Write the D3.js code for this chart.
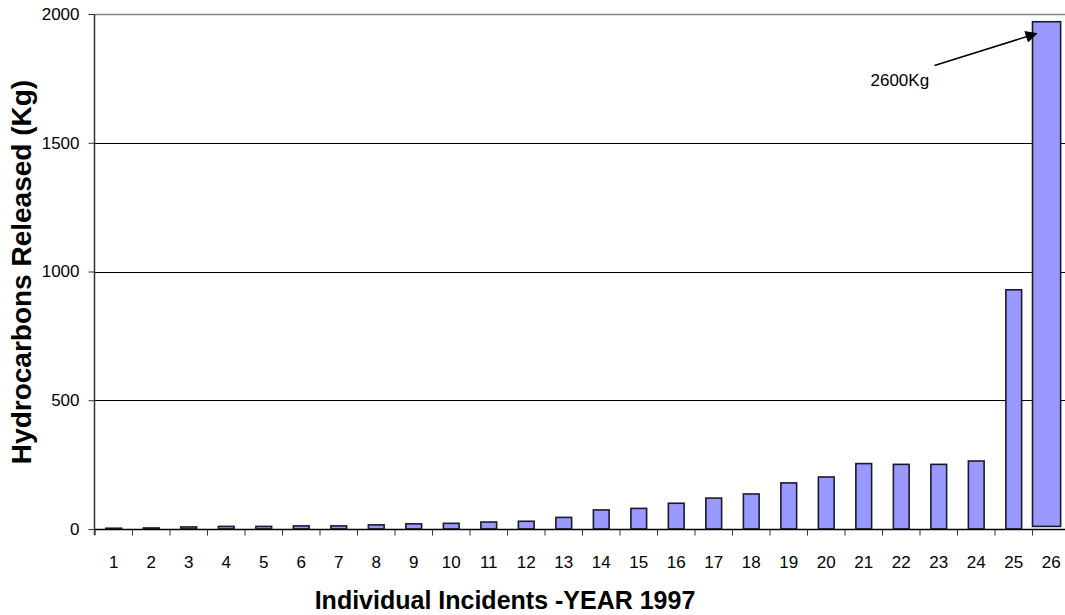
<!DOCTYPE html>
<html>
<head>
<meta charset="utf-8">
<script src="https://cdn.jsdelivr.net/npm/d3@7"></script>
<style>
  html, body { margin: 0; padding: 0; background: #fff; overflow: hidden; }
  svg { display: block; font-family: "Liberation Sans", Arial, sans-serif; }
</style>
</head>
<body>
<svg id="chart" width="1065" height="615"></svg>
<script>
// Hydrocarbon releases per incident, 1997 (kg)
const categories = ["1","2","3","4","5","6","7","8","9","10","11","12","13",
                    "14","15","16","17","18","19","20","21","22","23","24","25","26"];
const released = [3, 4, 8, 10, 10, 12, 12, 16, 20, 22, 27, 30, 45,
                  74, 80, 100, 120, 136, 179, 202, 254, 251, 251, 264, 929, 2600];
const yTicks = [0, 500, 1000, 1500, 2000];
const yMax = 2000;
// The off-scale incident is drawn as a truncated bar just under the axis top
const truncatedTop = 1970;
const truncatedBase = 10;
const calloutText = "2600Kg";

const svg = d3.select("#chart");
const margin = { left: 95, top: 14, bottom: 86 };
const plotRight = 1070;
const H = 615;

const x = d3.scaleBand()
  .domain(categories)
  .range([margin.left, plotRight])
  .padding(0);

const y = d3.scaleLinear()
  .domain([0, yMax])
  .range([H - margin.bottom, margin.top]);

const barW = x.bandwidth() * 0.42;
const wideW = x.bandwidth() * 0.75;

// Horizontal gridlines
svg.append("g")
  .selectAll("line")
  .data(yTicks.filter(d => d > 0))
  .join("line")
  .attr("x1", margin.left)
  .attr("x2", plotRight)
  .attr("y1", d => Math.round(y(d)) + 0.5)
  .attr("y2", d => Math.round(y(d)) + 0.5)
  .attr("stroke", d => d === yMax ? "#888" : "#000")
  .attr("stroke-width", d => d === yMax ? 1.5 : 1);

// Bars
const bars = svg.append("g");
bars.selectAll("rect")
  .data(released.map((v, i) => ({ cat: categories[i], v })))
  .join("rect")
  .attr("x", d => d.v > yMax ? x(d.cat) : x(d.cat) + (x.bandwidth() - barW) / 2)
  .attr("width", d => d.v > yMax ? wideW : barW)
  .attr("y", d => y(d.v > yMax ? truncatedTop : d.v))
  .attr("height", d => d.v > yMax
      ? y(truncatedBase) - y(truncatedTop)
      : y(0) - y(d.v))
  .attr("fill", "#9999FF")
  .attr("stroke", "#1a1a2e")
  .attr("stroke-width", 1.6);

// Y axis
const yAxis = d3.axisLeft(y)
  .tickValues(yTicks)
  .tickSize(6)
  .tickPadding(9)
  .tickFormat(d3.format("d"));
const gy = svg.append("g")
  .attr("transform", `translate(${margin.left - 0.5},0)`)
  .call(yAxis);
gy.select(".domain").attr("d", `M0,${margin.top}V${y(0) + 6}`).attr("stroke", "#333").attr("stroke-width", 1.5);
gy.selectAll(".tick line").attr("stroke", "#333");
gy.selectAll(".tick text")
  .attr("font-size", 17)
  .attr("font-family", "Liberation Sans, Arial, sans-serif")
  .attr("fill", "#000");

// X axis with ticks at category boundaries
const gx = svg.append("g")
  .attr("transform", `translate(0,${Math.round(y(0)) + 0.5})`);
gx.append("line")
  .attr("x1", margin.left)
  .attr("x2", plotRight)
  .attr("stroke", "#000")
  .attr("stroke-width", 1.5);
gx.selectAll("line.bound")
  .data(categories)
  .join("line")
  .attr("class", "bound")
  .attr("x1", d => x(d))
  .attr("x2", d => x(d))
  .attr("y1", 0)
  .attr("y2", 6)
  .attr("stroke", "#333");
gx.selectAll("text")
  .data(categories)
  .join("text")
  .attr("x", d => x(d) + x.bandwidth() / 2)
  .attr("y", 38)
  .attr("text-anchor", "middle")
  .attr("font-size", 17)
  .attr("fill", "#000")
  .text(d => d);

// Axis titles
svg.append("text")
  .attr("transform", "translate(31,272) rotate(-90)")
  .attr("text-anchor", "middle")
  .attr("font-size", 28)
  .attr("font-weight", "bold")
  .text("Hydrocarbons Released (Kg)");

svg.append("text")
  .attr("x", 505)
  .attr("y", 609)
  .attr("text-anchor", "middle")
  .attr("font-size", 25)
  .attr("font-weight", "bold")
  .text("Individual Incidents -YEAR 1997");

// Callout for the off-scale incident
svg.append("defs").append("marker")
  .attr("id", "arrow")
  .attr("viewBox", "0 0 10 10")
  .attr("refX", 9).attr("refY", 5)
  .attr("markerWidth", 9).attr("markerHeight", 8)
  .attr("orient", "auto")
  .append("path")
  .attr("d", "M0,0L10,5L0,10z")
  .attr("fill", "#000");

const lastCat = categories[categories.length - 1];
svg.append("line")
  .attr("x1", x(lastCat) - 98)
  .attr("y1", y(1800))
  .attr("x2", x(lastCat) + 4)
  .attr("y2", y(1924))
  .attr("stroke", "#000")
  .attr("stroke-width", 1.5)
  .attr("marker-end", "url(#arrow)");

svg.append("text")
  .attr("x", x(lastCat) - 162)
  .attr("y", y(1720))
  .attr("font-size", 17)
  .attr("fill", "#000")
  .text(calloutText);
</script>
</body>
</html>
